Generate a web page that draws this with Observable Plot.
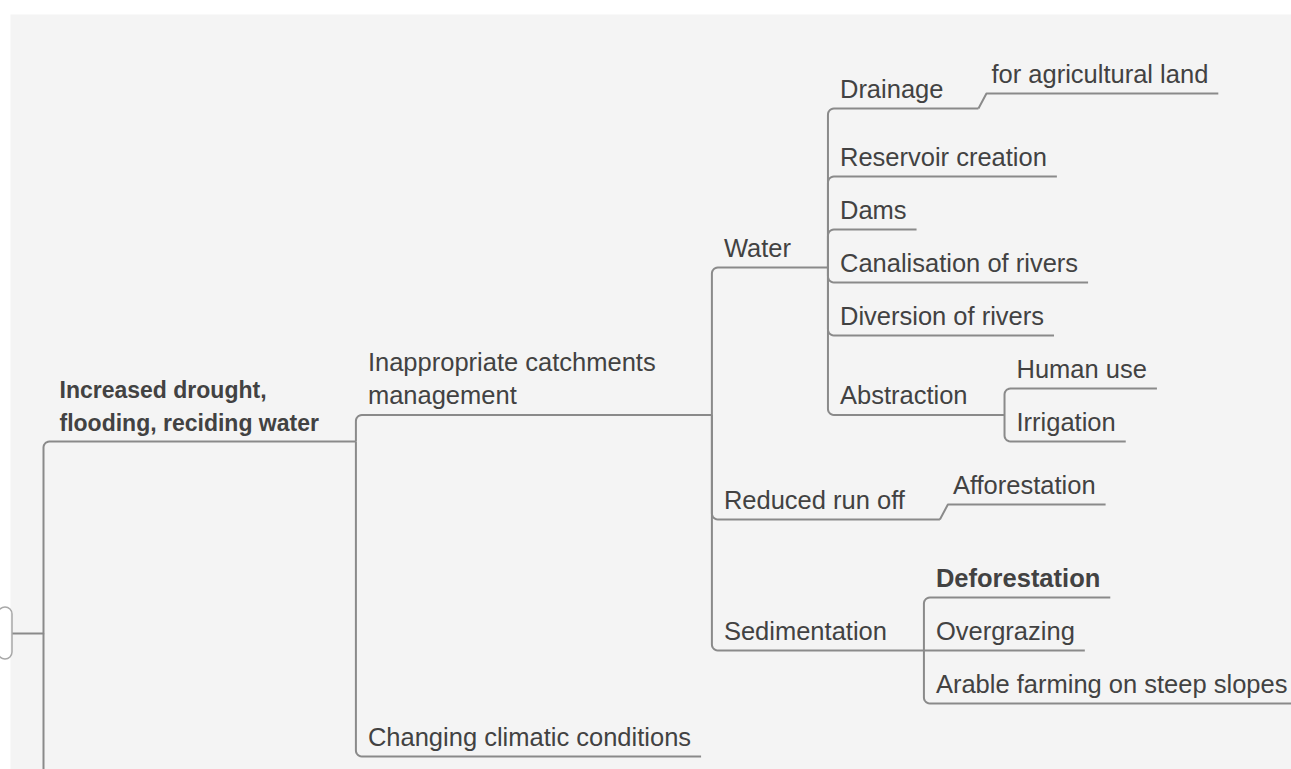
<!DOCTYPE html>
<html>
<head>
<meta charset="utf-8">
<script src="https://cdn.jsdelivr.net/npm/d3@7"></script>
<script src="https://cdn.jsdelivr.net/npm/@observablehq/plot@0.6"></script>
<style>
  html, body { margin: 0; padding: 0; background: #ffffff; overflow: hidden; }
  #chart svg { display: block; }
</style>
</head>
<body>
<div id="chart"></div>
<script>
// ---------------- data ----------------
const topics = [
  "Increased drought,\nflooding, reciding water",
  "Inappropriate catchments\nmanagement",
  "Changing climatic conditions",
  "Water",
  "Reduced run off",
  "Sedimentation",
  "Drainage",
  "Reservoir creation",
  "Dams",
  "Canalisation of rivers",
  "Diversion of rivers",
  "Abstraction",
  "for agricultural land",
  "Human use",
  "Irrigation",
  "Afforestation",
  "Deforestation",
  "Overgrazing",
  "Arable farming on steep slopes"
];
// index of each topic's parent topic (null = first visible topic)
const parentTopics = [null, 0, 0, 1, 1, 1, 3, 3, 3, 3, 3, 3, 6, 11, 11, 4, 5, 5, 5];
const emphasised = ["Deforestation"];

// ---------------- layout / style constants ----------------
const W = 1291, H = 769;
const S = {
  lineColor: "#8a8a8a", textColor: "#424242",
  font: "'Liberation Sans', Arial, Helvetica, sans-serif",
  lineH: 33, above: 3, below: 17, baseline: 11,
  singleShift: 15, groupGap: 10,
  parentPad: 35, leafPad: 10, spineGap: 2, bridge: 8, bridgeText: 5, radius: 6,
  top: 57,                     // top of the visible part of the map
  centralY: 633, centralX: 12, // edge of the (cropped) central topic
  rootSpineX: 43
};
const DEPTH = [
  {size: 23, weight: "bold", inset: 16, minWidth: 0},
  {size: 25.5, weight: "normal", inset: 12, minWidth: 307},
  {size: 25.5, weight: "normal", inset: 12, minWidth: 0}
];

// ---------------- build tree ----------------
const nodes = topics.map((t, i) => ({id: i, text: t, lines: t.split("\n"), parent: parentTopics[i], children: []}));
nodes.forEach(n => { if (n.parent != null) nodes[n.parent].children.push(n); });
const root = nodes.find(n => n.parent == null);
(function setDepth(n, d) { n.depth = d; n.children.forEach(c => setDepth(c, d + 1)); })(root, 0);

function styleOf(n) {
  const s = DEPTH[Math.min(n.depth, DEPTH.length - 1)];
  return {...s, weight: emphasised.includes(n.text) ? "bold" : s.weight};
}
const ctx = document.createElement("canvas").getContext("2d");
function textWidth(n) {
  const s = styleOf(n);
  ctx.font = `${s.weight} ${s.size}px ${S.font}`;
  return Math.max(...n.lines.map(l => ctx.measureText(l).width));
}

// vertical layout (logic-chart style): returns extent relative to the node's underline
function extent(n) {
  const ownTop = -(n.lines.length * S.lineH + S.above), ownBot = S.below;
  const ownC = (ownTop + ownBot) / 2;
  if (!n.children.length) return (n.ext = [ownTop, ownBot]);
  if (n.children.length === 1) {
    const c = n.children[0];
    const e = extent(c);
    c.rel = -S.singleShift;
    const t = Math.min(ownTop, c.rel + e[0]), b = Math.max(ownBot, c.rel + e[1]);
    const half = Math.max(ownC - t, b - ownC);
    return (n.ext = [ownC - half, ownC + half]);
  }
  let cursor = 0, prev = null;
  for (const c of n.children) {
    const e = extent(c);
    if (prev && prev.children.length && c.children.length) cursor += S.groupGap;
    c.stack = cursor - e[0];
    cursor += e[1] - e[0];
    prev = c;
  }
  const anchor = cursor / 2 - ownC;
  n.children.forEach(c => (c.rel = c.stack - anchor));
  return (n.ext = [Math.min(ownTop, -anchor), Math.max(ownBot, cursor - anchor)]);
}
extent(root);
root.y = S.top - root.ext[0];
(function place(n) { n.children.forEach(c => { c.y = n.y + c.rel; place(c); }); })(root);

// horizontal layout
function placeX(n, tx, x0) {
  n.tx = tx; n.x0 = x0;
  n.w = Math.max(textWidth(n), styleOf(n).minWidth);
  n.x1 = tx + n.w + (n.children.length ? S.parentPad : S.leafPad);
  if (n.children.length === 1) {
    const c = n.children[0];
    placeX(c, n.x1 + S.bridge + S.bridgeText, n.x1 + S.bridge);
  } else if (n.children.length > 1) {
    n.spine = n.x1 + S.spineGap;
    n.children.forEach(c => placeX(c, n.spine + styleOf(c).inset, n.spine));
  }
}
placeX(root, S.rootSpineX + DEPTH[0].inset, S.rootSpineX);

// ---------------- connector paths ----------------
const pts = [];
function corner(id, sx, py, y) {
  const s = Math.sign(y - py), r = S.radius;
  if (Math.abs(y - py) < r || s === 0) { pts.push({id, x: sx, y}); return; }
  const cx = sx + r, cy = y - s * r;
  for (let k = 0; k <= 6; ++k) {
    const t = (k / 6) * Math.PI / 2;
    pts.push({id, x: cx - r * Math.cos(t), y: cy + s * r * Math.sin(t)});
  }
}
nodes.forEach(n => {
  const id = "n" + n.id;
  if (n.parent == null) {
    pts.push({id, x: S.centralX, y: S.centralY});
    pts.push({id, x: S.rootSpineX, y: S.centralY});
    corner(id, S.rootSpineX, S.centralY, n.y);
  } else {
    const p = nodes[n.parent];
    if (p.children.length === 1) {
      pts.push({id, x: p.x1, y: p.y});
      pts.push({id, x: n.x0, y: n.y});
    } else {
      pts.push({id, x: p.spine, y: p.y});
      corner(id, p.spine, p.y, n.y);
    }
  }
  pts.push({id, x: n.x1, y: n.y});
  if (n.children.length > 1) pts.push({id, x: n.spine, y: n.y});
});
// the map continues below the visible area (further branches of the central topic)
pts.push({id: "below", x: S.rootSpineX, y: S.centralY});
pts.push({id: "below", x: S.rootSpineX, y: H + 40});

// ---------------- text groups ----------------
const groups = d3.groups(nodes, n => { const s = styleOf(n); return `${s.size}|${s.weight}`; });
const textMarks = groups.map(([key, arr]) => {
  const [size, weight] = key.split("|");
  return Plot.text(arr, {
    x: "tx", y: d => d.y - S.baseline, text: "text",
    textAnchor: "start", lineAnchor: "bottom",
    fontSize: +size, fontWeight: weight, lineHeight: S.lineH / +size,
    fill: S.textColor, fontFamily: S.font
  });
});

const chart = Plot.plot({
  width: W, height: H, margin: 0,
  x: {domain: [0, W], range: [0, W], axis: null},
  y: {domain: [0, H], range: [0, H], axis: null},
  style: {background: "transparent", overflow: "hidden", fontFamily: S.font},
  marks: [
    Plot.frame({fill: "#f4f4f4", stroke: null, insetLeft: 10, insetTop: 14}),
    // right edge of the cropped central topic
    Plot.rect([0], {x1: S.centralX - 14, x2: S.centralX, y1: S.centralY - 26, y2: S.centralY + 26, rx: 7,
      fill: "none", stroke: "#a8a8a8", strokeWidth: 1.5}),
    Plot.line(pts, {x: "x", y: "y", z: "id", stroke: S.lineColor, strokeWidth: 2, curve: "linear",
      strokeLinejoin: "round", strokeLinecap: "butt"}),
    ...textMarks
  ]
});
document.getElementById("chart").appendChild(chart);
</script>
</body>
</html>
